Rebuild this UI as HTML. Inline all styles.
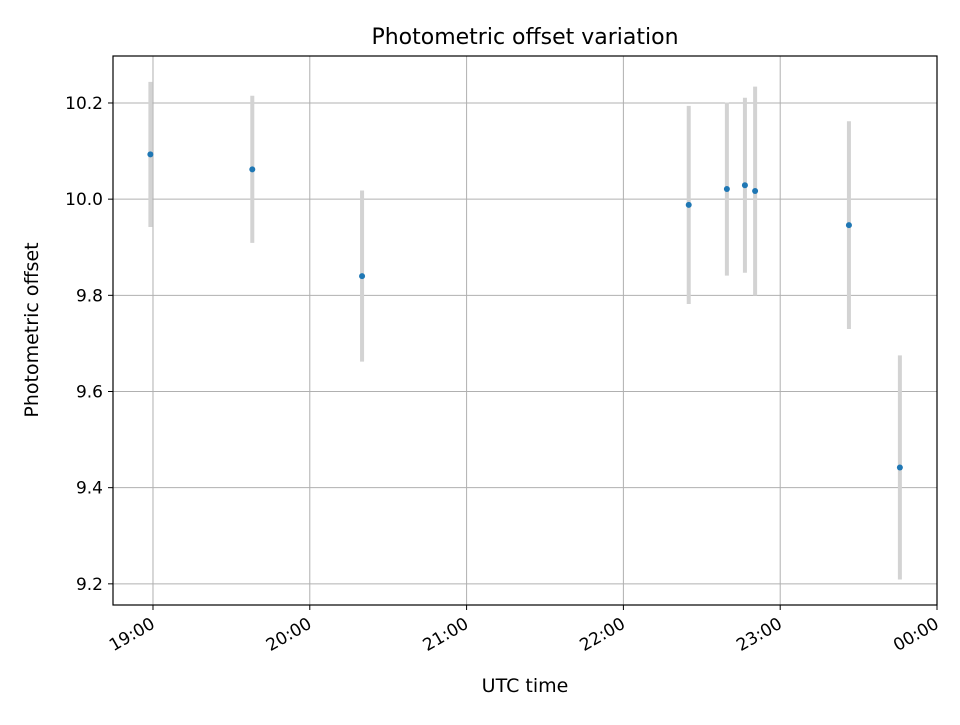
<!DOCTYPE html>
<html><head><meta charset="utf-8"><style>
body{margin:0;background:#fff;font-family:"Liberation Sans","DejaVu Sans",sans-serif}
svg text{font-family:"DejaVu Sans","Liberation Sans",sans-serif}
</style></head><body>
<svg id="chart" width="960" height="720" xmlns="http://www.w3.org/2000/svg">
<rect width="960" height="720" fill="#fff"/>
<text x="525" y="44" font-size="22" text-anchor="middle">Photometric offset variation</text>
<text x="525" y="692" font-size="19" text-anchor="middle">UTC time</text>
<text transform="translate(38,330) rotate(-90)" font-size="19" text-anchor="middle">Photometric offset</text>
<g id="grid"></g><g id="errs"></g><g id="pts"></g><g id="ticks"></g>
<rect x="113" y="56" width="824" height="549" fill="none" stroke="#000" stroke-width="1.2"/>
</svg>
<script>
// minutes after 19:00 UTC
const times = [-1, 38, 80, 205, 219.6, 226.5, 230.4, 266.3, 285.8];
const offsets = [10.093, 10.062, 9.840, 9.988, 10.021, 10.029, 10.017, 9.946, 9.442];
const errors = [0.151, 0.153, 0.178, 0.206, 0.18, 0.182, 0.217, 0.216, 0.233];
const xTickMinutes = [0, 60, 120, 180, 240, 300];
const xTickLabels = ["19:00","20:00","21:00","22:00","23:00","00:00"];
const yTicks = [9.2, 9.4, 9.6, 9.8, 10.0, 10.2];
const yTickLabels = ["9.2","9.4","9.6","9.8","10.0","10.2"];

const L=113,R=937,T=56,B=605, xMin=-15.3, xMax=300, yMin=9.156, yMax=10.2977;
const xs=v=>L+(v-xMin)/(xMax-xMin)*(R-L);
const ys=v=>B-(v-yMin)/(yMax-yMin)*(B-T);
const NS="http://www.w3.org/2000/svg";
function mk(parent,tag,attrs){const e=document.createElementNS(NS,tag);for(const k in attrs)e.setAttribute(k,attrs[k]);document.getElementById(parent).appendChild(e);return e;}

xTickMinutes.forEach((m,i)=>{
  const x=xs(m);
  const g=mk('grid','line',{x1:x,x2:x,y1:T,y2:B,stroke:'#b0b0b0','stroke-width':1});
  
  
  const t=mk('ticks','line',{x1:x,x2:x,y1:B,y2:B+5,stroke:'#000','stroke-width':1});
  
  
  const lb=mk('ticks','text',{transform:`translate(${x+3},${B+22}) rotate(-30)`,'font-size':17,'text-anchor':'end'});
  lb.textContent=xTickLabels[i];
  
  
});
yTicks.forEach((v,i)=>{
  const y=ys(v);
  const g=mk('grid','line',{x1:L,x2:R,y1:y,y2:y,stroke:'#b0b0b0','stroke-width':1});
  
  
  const t=mk('ticks','line',{x1:L-5,x2:L,y1:y,y2:y,stroke:'#000','stroke-width':1});
  
  
  const lb=mk('ticks','text',{x:L-10,y:y+6,'font-size':17,'text-anchor':'end'});
  lb.textContent=yTickLabels[i];
  
  
});
times.forEach((m,i)=>{
  const x=xs(m);
  const e=mk('errs','line',{x1:x,x2:x,y1:ys(offsets[i]+errors[i]),y2:ys(offsets[i]-errors[i]),stroke:'#d3d3d3','stroke-width':4});
  
  
  const p=mk('pts','circle',{cx:x,cy:ys(offsets[i]),r:3,fill:'#1f77b4'});
  
  
});
</script>
</body></html>
